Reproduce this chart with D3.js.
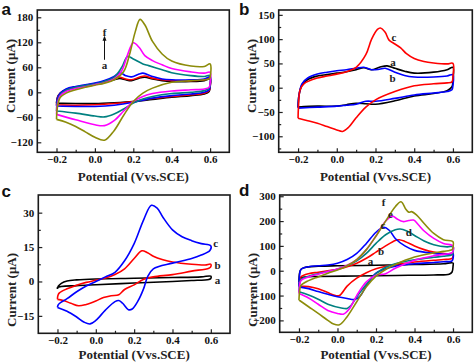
<!DOCTYPE html>
<html>
<head>
<meta charset="utf-8">
<script src="https://cdn.jsdelivr.net/npm/d3@7"></script>
<style>
  body { margin: 0; background: #fff; }
  svg { display: block; }
</style>
</head>
<body>
<svg id="fig" width="474" height="363"></svg>
<script>
// ---- data: potential (V vs SCE), current (uA) ----
const xTicks = [-0.2, 0.0, 0.2, 0.4, 0.6];
const xMinor = [-0.1, 0.1, 0.3, 0.5];

// panel a
const aYTicks = [-120, -60, 0, 60, 120, 180];
const aYMinor = [-90, -30, 30, 90, 150];
const aCurveA = [[-0.2,-26],[-0.195,-12],[-0.18,-2],[-0.15,6],[-0.1,12],[-0.05,16],[0,20],[0.05,24],[0.1,30],[0.13,33],[0.16,30],[0.19,28],[0.23,34],[0.26,36],[0.3,32],[0.35,28],[0.4,26],[0.5,26],[0.57,28],[0.6,32],
  [0.6,12],[0.595,2],[0.57,-4],[0.5,-8],[0.4,-12],[0.3,-17],[0.2,-22],[0.1,-25],[0,-27],[-0.1,-27],[-0.2,-26]];
const aCurveB = [[-0.2,-30],[-0.195,-14],[-0.18,-2],[-0.15,7],[-0.1,13],[-0.05,17],[0,21],[0.05,25],[0.1,32],[0.13,36],[0.16,32],[0.19,30],[0.23,36],[0.26,39],[0.3,34],[0.35,30],[0.4,28],[0.5,28],[0.57,30],[0.6,34],
  [0.6,14],[0.595,4],[0.57,-2],[0.5,-6],[0.4,-10],[0.3,-15],[0.2,-22],[0.1,-27],[0,-30],[-0.1,-31],[-0.2,-30]];
const aCurveC = [[-0.2,-33],[-0.195,-15],[-0.18,-2],[-0.15,8],[-0.1,14],[-0.05,18],[0,22],[0.05,28],[0.1,38],[0.13,47],[0.16,40],[0.19,37],[0.23,44],[0.25,46],[0.3,38],[0.35,32],[0.4,30],[0.5,30],[0.57,32],[0.6,37],
  [0.6,16],[0.595,6],[0.57,0],[0.5,-4],[0.4,-8],[0.3,-14],[0.2,-24],[0.1,-31],[0,-34],[-0.1,-34],[-0.2,-33]];
const aCurveD = [[-0.2,-45],[-0.195,-22],[-0.18,-6],[-0.15,5],[-0.1,12],[-0.05,16],[0,20],[0.05,26],[0.1,36],[0.14,60],[0.17,86],[0.2,80],[0.25,68],[0.28,64],[0.35,54],[0.4,47],[0.5,40],[0.57,38],[0.6,40],
  [0.6,20],[0.595,10],[0.57,4],[0.5,0],[0.4,-3],[0.3,-10],[0.25,-16],[0.2,-26],[0.15,-40],[0.1,-52],[0.05,-59],[0,-57],[-0.1,-50],[-0.2,-45]];
const aCurveE = [[-0.2,-53],[-0.195,-28],[-0.18,-8],[-0.15,2],[-0.1,9],[-0.05,13],[0,18],[0.05,23],[0.1,32],[0.14,52],[0.17,90],[0.2,119],[0.23,108],[0.26,88],[0.3,76],[0.35,66],[0.4,57],[0.5,49],[0.57,46],[0.6,48],
  [0.6,22],[0.595,12],[0.57,8],[0.5,6],[0.4,3],[0.3,-3],[0.25,-10],[0.2,-22],[0.15,-45],[0.1,-68],[0.05,-80],[0,-78],[-0.1,-66],[-0.2,-53]];
const aCurveF = [[-0.2,-65],[-0.195,-35],[-0.18,-12],[-0.15,-2],[-0.1,6],[-0.05,12],[0,17],[0.05,22],[0.1,30],[0.15,50],[0.18,90],[0.21,145],[0.235,175],[0.26,162],[0.3,122],[0.35,92],[0.4,75],[0.5,63],[0.57,62],[0.6,68],
  [0.6,36],[0.595,32],[0.57,30],[0.5,28],[0.4,24],[0.3,10],[0.25,-2],[0.2,-22],[0.15,-55],[0.1,-92],[0.05,-115],[0,-108],[-0.05,-95],[-0.1,-82],[-0.15,-72],[-0.2,-65]];

// panel b
const bYTicks = [-100, -50, 0, 50, 100, 150];
const bYMinor = [-125, -75, -25, 25, 75, 125];
const bCurveA = [[-0.2,-40],[-0.195,-15],[-0.18,5],[-0.15,17],[-0.1,24],[-0.05,27],[0,30],[0.05,33],[0.1,37],[0.14,41],[0.18,37],[0.22,42],[0.26,45],[0.3,40],[0.35,34],[0.4,30],[0.5,32],[0.57,37],[0.6,42],
  [0.6,15],[0.595,2],[0.57,-6],[0.5,-12],[0.4,-17],[0.3,-27],[0.2,-34],[0.15,-33],[0.1,-32],[0.05,-35],[0,-38],[-0.1,-38],[-0.2,-40]];
const bCurveB = [[-0.2,-42],[-0.195,-15],[-0.18,8],[-0.15,20],[-0.1,28],[-0.05,32],[0,35],[0.05,37],[0.1,40],[0.14,42],[0.18,37],[0.22,38],[0.25,40],[0.3,32],[0.35,25],[0.4,22],[0.5,22],[0.57,24],[0.6,27],
  [0.6,5],[0.595,-4],[0.57,-8],[0.5,-11],[0.4,-15],[0.3,-22],[0.2,-28],[0.15,-28],[0.1,-34],[0.05,-36],[0,-38],[-0.1,-40],[-0.2,-42]];
const bCurveC = [[-0.2,-63],[-0.198,-40],[-0.19,-5],[-0.17,8],[-0.1,20],[-0.05,24],[0,28],[0.05,33],[0.1,42],[0.15,68],[0.18,100],[0.21,120],[0.225,123],[0.25,114],[0.27,98],[0.3,90],[0.33,82],[0.36,70],[0.4,60],[0.45,54],[0.5,51],[0.57,49],[0.6,50],
  [0.6,22],[0.595,12],[0.57,10],[0.5,8],[0.4,4],[0.3,-8],[0.2,-25],[0.15,-40],[0.1,-62],[0.06,-82],[0.03,-90],[0,-87],[-0.05,-80],[-0.1,-73],[-0.15,-68],[-0.2,-63]];

// panel c
const cYTicks = [-15, 0, 15, 30];
const cYMinor = [-7.5, 7.5, 22.5];
const cCurveA = [[-0.2,-3.2],[-0.195,-2],[-0.18,-0.8],[-0.15,0.2],[-0.1,0.7],[0,1.1],[0.2,1.4],[0.4,1.7],[0.55,2.0],[0.6,2.3],
  [0.6,1.3],[0.59,0.9],[0.5,0.4],[0.4,0],[0.2,-0.7],[0,-1.4],[-0.1,-1.8],[-0.2,-2.6],[-0.2,-3.2]];
const cCurveB = [[-0.2,-7.8],[-0.198,-6.2],[-0.19,-5],[-0.15,-3.2],[-0.1,-1.6],[-0.05,-0.4],[0,0.5],[0.05,1.5],[0.1,3],[0.15,5.5],[0.2,10],[0.24,13.4],[0.27,12.5],[0.3,11],[0.35,9.5],[0.4,8.5],[0.5,7.5],[0.57,7.2],[0.6,7.5],
  [0.6,6.5],[0.59,5.8],[0.5,4.5],[0.4,3],[0.3,2],[0.25,1],[0.2,-1.5],[0.15,-3.5],[0.12,-5.8],[0.08,-6.2],[0.04,-7],[0,-8.5],[-0.05,-10],[-0.09,-10.6],[-0.13,-9.5],[-0.17,-8.3],[-0.2,-7.8]];
const cCurveC = [[-0.2,-11.3],[-0.198,-10.5],[-0.19,-9.6],[-0.15,-7.5],[-0.1,-4.5],[-0.05,-2],[0,0],[0.05,2],[0.1,4],[0.15,9],[0.2,16.5],[0.25,27],[0.29,33.2],[0.32,32],[0.35,28],[0.4,22.5],[0.45,19.5],[0.5,17.8],[0.55,16.5],[0.6,15.5],
  [0.595,13.5],[0.55,11.5],[0.5,10],[0.4,8],[0.3,5.5],[0.27,2],[0.25,-3],[0.22,-8.5],[0.19,-12],[0.17,-12.3],[0.14,-9.5],[0.12,-8.3],[0.1,-8.8],[0.05,-12.5],[0,-17],[-0.03,-18.5],[-0.06,-17.8],[-0.1,-15.5],[-0.15,-13],[-0.2,-11.3]];

// panel d
const dYTicks = [-200, -100, 0, 100, 200, 300];
const dYMinor = [-150, -50, 50, 150, 250];
const dCurveA = [[-0.2,-45],[-0.197,-10],[-0.19,5],[-0.17,13],[-0.1,18],[0,20],[0.2,22],[0.4,25],[0.55,28],[0.6,31],
  [0.6,18],[0.595,-5],[0.58,-14],[0.5,-17],[0.3,-19],[0.1,-21],[-0.1,-23],[-0.17,-25],[-0.19,-30],[-0.2,-45]];
const dCurveB = [[-0.2,-62],[-0.197,-40],[-0.19,-25],[-0.15,-12],[-0.1,-6],[-0.05,0],[0,6],[0.05,16],[0.1,30],[0.15,50],[0.2,75],[0.25,100],[0.3,122],[0.32,125],[0.35,118],[0.4,100],[0.45,85],[0.5,75],[0.57,68],[0.6,70],
  [0.6,58],[0.595,50],[0.55,45],[0.5,42],[0.4,35],[0.3,25],[0.2,8],[0.15,-8],[0.1,-30],[0.05,-62],[0.01,-100],[-0.02,-98],[-0.05,-88],[-0.1,-73],[-0.15,-64],[-0.2,-62]];
const dCurveC = [[-0.2,-65],[-0.197,-20],[-0.19,5],[-0.15,16],[-0.1,20],[-0.05,23],[0,30],[0.05,45],[0.1,70],[0.15,110],[0.2,155],[0.24,175],[0.27,162],[0.3,130],[0.35,100],[0.4,82],[0.5,70],[0.57,66],[0.6,68],
  [0.6,50],[0.595,40],[0.55,36],[0.5,33],[0.4,28],[0.3,18],[0.25,8],[0.2,-10],[0.15,-60],[0.12,-100],[0.09,-116],[0.05,-112],[0,-105],[-0.05,-95],[-0.1,-84],[-0.15,-72],[-0.2,-65]];
const dCurveD = [[-0.2,-85],[-0.197,-55],[-0.19,-35],[-0.15,-22],[-0.1,-12],[-0.05,-3],[0,6],[0.05,20],[0.1,40],[0.15,70],[0.2,110],[0.25,145],[0.3,165],[0.325,168],[0.36,160],[0.4,142],[0.45,120],[0.5,105],[0.57,96],[0.6,97],
  [0.6,75],[0.595,65],[0.55,58],[0.5,54],[0.4,44],[0.3,28],[0.25,14],[0.2,-12],[0.15,-55],[0.1,-105],[0.07,-140],[0.05,-152],[0.02,-150],[-0.05,-135],[-0.1,-115],[-0.15,-98],[-0.2,-85]];
const dCurveE = [[-0.2,-92],[-0.197,-60],[-0.19,-40],[-0.15,-25],[-0.1,-14],[-0.05,-3],[0,7],[0.05,22],[0.1,45],[0.15,85],[0.2,140],[0.25,200],[0.285,220],[0.31,208],[0.34,198],[0.37,202],[0.395,204],[0.42,185],[0.45,160],[0.5,130],[0.55,110],[0.6,100],
  [0.6,80],[0.595,72],[0.55,66],[0.5,60],[0.4,42],[0.3,10],[0.25,-12],[0.2,-18],[0.15,-45],[0.1,-100],[0.06,-155],[0.03,-175],[0,-172],[-0.05,-160],[-0.1,-135],[-0.15,-110],[-0.2,-92]];
const dCurveF = [[-0.2,-118],[-0.197,-85],[-0.19,-60],[-0.15,-40],[-0.1,-25],[-0.05,-10],[0,3],[0.05,20],[0.1,45],[0.15,85],[0.2,140],[0.25,200],[0.3,258],[0.33,278],[0.355,248],[0.37,236],[0.385,238],[0.41,225],[0.45,190],[0.5,150],[0.55,125],[0.6,117],
  [0.6,95],[0.595,85],[0.55,78],[0.5,72],[0.4,55],[0.3,25],[0.25,5],[0.2,-22],[0.15,-65],[0.1,-125],[0.05,-185],[0.01,-218],[-0.02,-215],[-0.05,-200],[-0.1,-172],[-0.15,-145],[-0.2,-118]];

// curve labels [text, E, I]
const aLabels = [["f", 0.05, 145], ["a", 0.05, 66]];
const bLabels = [["c", 0.295, 104], ["a", 0.29, 53], ["b", 0.288, 20]];
const cLabels = [["c", 0.625, 16.8], ["b", 0.635, 7.1], ["a", 0.635, 0.6]];
const dLabels = [["f", 0.24, 276], ["e", 0.275, 228], ["c", 0.236, 184], ["d", 0.37, 155], ["b", 0.226, 77], ["a", 0.171, 37]];

// ---- layout ----
const SERIF = "'Liberation Serif','Times New Roman',serif";
const SANS = "'Liberation Sans',Arial,sans-serif";
const colA = "#000000", colB = "#ff0000", colC = "#0000ff", colD = "#008080", colE = "#ff00ff", colF = "#8c8c0a";

const panels = [
  { letter: "a", lx: 1.5, ly: 14.5, box: [37.3, 10, 229.3, 152.3], yDom: [-144, 197.5],
    yTicks: aYTicks, yMinor: aYMinor, yTitleY: 76, xTitleY: 181,
    curves: [aCurveA, aCurveB, aCurveC, aCurveD, aCurveE, aCurveF], colors: [colA, colB, colC, colD, colE, colF],
    labels: aLabels, arrow: [78, 130] },
  { letter: "b", lx: 239, ly: 14.5, box: [278.7, 10, 472.3, 152.3], yDom: [-133, 160],
    yTicks: bYTicks, yMinor: bYMinor, yTitleY: 76, xTitleY: 181,
    curves: [bCurveA, bCurveB, bCurveC], colors: [colA, colC, colB], labels: bLabels },
  { letter: "c", lx: 1.5, ly: 197, box: [38.3, 195, 230, 333.3], yDom: [-22.6, 37.7],
    yTicks: cYTicks, yMinor: cYMinor, yTitleY: 290, xTitleY: 359,
    curves: [cCurveA, cCurveB, cCurveC], colors: [colA, colB, colC], labels: cLabels },
  { letter: "d", lx: 239, ly: 196, box: [279.7, 195, 472.3, 332.3], yDom: [-248, 305],
    yTicks: dYTicks, yMinor: dYMinor, yTitleY: 290, xTitleY: 359,
    curves: [dCurveA, dCurveB, dCurveC, dCurveD, dCurveE, dCurveF], colors: [colA, colB, colC, colD, colE, colF],
    labels: dLabels }
];

const svg = d3.select("#fig");
svg.append("rect").attr("width", 474).attr("height", 363).attr("fill", "#fff");

svg.append("defs").append("marker")
  .attr("id", "arrowhead")
  .attr("viewBox", "0 0 10 10")
  .attr("refX", 5).attr("refY", 5)
  .attr("markerWidth", 5).attr("markerHeight", 5)
  .attr("orient", "auto")
  .append("path").attr("d", "M0,1 L10,5 L0,9 Z").attr("fill", "#111");

panels.forEach(p => {
  const [x0, y0, x1, y1] = p.box;
  const x = d3.scaleLinear().domain([-0.3, 0.7]).range([x0, x1]);
  const y = d3.scaleLinear().domain(p.yDom).range([y1, y0]);
  const g = svg.append("g");

  // curves
  const line = d3.line()
    .x(d => x(d[0]))
    .y(d => y(d[1]))
    .curve(d3.curveCatmullRom.alpha(0.5));
  p.curves.forEach((c, i) => {
    g.append("path")
      .attr("d", line(c))
      .attr("fill", "none")
      .attr("stroke", p.colors[i])
      .attr("stroke-width", 1.6)
      .attr("stroke-linejoin", "round");
  });

  // axes with inward ticks
  g.append("g").attr("transform", `translate(0,${y1})`)
    .call(d3.axisBottom(x).tickValues(xTicks).tickSize(-4).tickPadding(3).tickFormat(d3.format(".1f")));
  g.append("g").attr("transform", `translate(0,${y1})`)
    .call(d3.axisBottom(x).tickValues(xMinor).tickSize(-2.5).tickFormat(""));
  g.append("g").attr("transform", `translate(${x0},0)`)
    .call(d3.axisLeft(y).tickValues(p.yTicks).tickSize(-4).tickPadding(4).tickFormat(d3.format("d")));
  g.append("g").attr("transform", `translate(${x0},0)`)
    .call(d3.axisLeft(y).tickValues(p.yMinor).tickSize(-2.5).tickFormat(""));
  g.selectAll(".domain").remove();
  g.selectAll(".tick line").attr("stroke", "#222").attr("stroke-width", 1.2);
  g.selectAll(".tick text")
    .attr("fill", "#111")
    .style("font-family", SERIF)
    .style("font-weight", "bold")
    .style("font-size", "11px");

  // frame
  g.append("rect")
    .attr("x", x0).attr("y", y0)
    .attr("width", x1 - x0).attr("height", y1 - y0)
    .attr("fill", "none").attr("stroke", "#1a1a1a").attr("stroke-width", 1.6);

  // axis titles
  g.append("text")
    .attr("x", (x0 + x1) / 2).attr("y", p.xTitleY)
    .attr("text-anchor", "middle")
    .style("font-family", SERIF).style("font-weight", "bold").style("font-size", "13px")
    .attr("fill", "#222")
    .text("Potential (Vvs.SCE)");
  g.append("text")
    .attr("transform", `translate(${x0 - 27},${p.yTitleY}) rotate(-90)`)
    .attr("text-anchor", "middle")
    .attr("dy", "0.35em")
    .style("font-family", SERIF).style("font-weight", "bold").style("font-size", "13px")
    .attr("fill", "#222")
    .text("Current (\u03bcA)");

  // panel letter
  g.append("text")
    .attr("x", p.lx).attr("y", p.ly)
    .style("font-family", SANS).style("font-weight", "bold").style("font-size", "17px")
    .attr("fill", "#111")
    .text(p.letter);

  // curve labels
  g.selectAll(".lbl").data(p.labels).enter().append("text")
    .attr("x", d => x(d[1])).attr("y", d => y(d[2]))
    .attr("text-anchor", "middle")
    .attr("dy", "0.35em")
    .style("font-family", SERIF).style("font-weight", "bold").style("font-size", "11px")
    .attr("fill", "#222")
    .text(d => d[0]);

  if (p.arrow) {
    g.append("line")
      .attr("x1", x(0.05)).attr("x2", x(0.05))
      .attr("y1", y(p.arrow[0])).attr("y2", y(p.arrow[1]))
      .attr("stroke", "#111").attr("stroke-width", 1)
      .attr("marker-end", "url(#arrowhead)");
  }
});
</script>
</body>
</html>
